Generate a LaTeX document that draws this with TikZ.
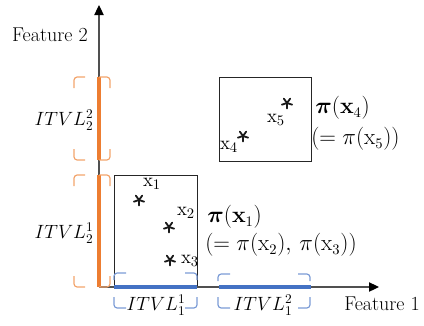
\documentclass[tikz,border=0pt]{standalone}
\usepackage{amsmath}
\usetikzlibrary{arrows.meta}
\definecolor{obar}{HTML}{ED7D31}
\definecolor{obrk}{HTML}{F2A46C}
\definecolor{bbar}{HTML}{4472C4}
\definecolor{bbrk}{HTML}{7B9BD6}
\definecolor{axisgray}{HTML}{505050}
\newcommand{\vbrk}[5]{% color, xl, xr, yt, yb  (vertical interval)
  \draw[#1,brk] (#2,#4+11) -- (#2,#4) -- (#2+11,#4);
  \draw[#1,brk] (#3,#4+11) -- (#3,#4) -- (#3-11,#4);
  \draw[#1,brk] (#2,#5-11) -- (#2,#5) -- (#2+11,#5);
  \draw[#1,brk] (#3,#5-11) -- (#3,#5) -- (#3-11,#5);
}
\newcommand{\hbrk}[5]{% color, xl, xr, yt, yb (horizontal interval)
  \draw[#1,brk] (#2+12,#4) -- (#2,#4) -- (#2,#4+7);
  \draw[#1,brk] (#3-12,#4) -- (#3,#4) -- (#3,#4+7);
  \draw[#1,brk] (#2+12,#5) -- (#2,#5) -- (#2,#5-11);
  \draw[#1,brk] (#3-12,#5) -- (#3,#5) -- (#3,#5-11);
}
\newcommand{\astr}[1]{%
  \foreach \a in {90,162,234,306,18} \draw[starline] (#1) -- ++(\a:5.4);
}
\begin{document}
\begin{tikzpicture}[x=0.75pt,y=-0.75pt,
  txt/.style={inner sep=0pt,font=\fontsize{15}{17}\selectfont},
  mth/.style={inner sep=0pt,font=\fontsize{14.5}{17}\selectfont},
  xlab/.style={inner sep=0pt,font=\fontsize{15.5}{18}\selectfont},
  plab/.style={inner sep=0pt,font=\fontsize{16.3}{19}\selectfont},
  axis/.style={draw=axisgray,line width=0.8pt,-{Triangle[length=7.5pt,width=7pt,fill=black,color=black]}},
  brk/.style={line width=0.9pt,rounded corners=2.4pt},
  obarline/.style={obar,line width=2.6pt},
  bbarline/.style={bbar,line width=2.4pt},
  boxline/.style={draw=black!85,line width=0.7pt,inner sep=0pt},
  starline/.style={black!90,line width=1.35pt,line cap=round}]
\useasboundingbox (0,0) rectangle (424,325);

% boxes
\node[boxline,minimum width=62.25pt,minimum height=84pt] (box1) at (155.5,231) {};
\node[boxline,minimum width=69pt,minimum height=63pt] (box2) at (265,119) {};

% interval bars
\coordinate (o22t) at (99,77);  \coordinate (o22b) at (99,160);
\coordinate (o21t) at (99,175); \coordinate (o21b) at (99,287);
\coordinate (b11l) at (114,287); \coordinate (b11r) at (197,287);
\coordinate (b12l) at (219,287); \coordinate (b12r) at (311,287);

% axes
\coordinate (O) at (99,287);
\coordinate (ytip) at (99,5);
\coordinate (xtip) at (379,287);
\draw[axis] (O) -- (ytip);
\draw[axis] (O) -- (xtip);

\draw[obarline] (o22t) -- (o22b);
\draw[obarline] (o21t) -- (o21b);
\draw[bbarline] (b11l) -- (b11r);
\draw[bbarline] (b12l) -- (b12r);

% brackets
\vbrk{obrk}{74}{110}{77}{160}
\vbrk{obrk}{74}{110}{175}{287}
\hbrk{bbrk}{114}{197}{273}{308}
\hbrk{bbrk}{218}{310}{274}{308}

% axis labels
\node[txt] (f2) at (50,35) {Feature 2};
\node[txt] (f1) at (382,304) {Feature 1};

% interval labels
\node[mth] (l22) at (64,120) {$ITVL_2^2$};
\node[mth] (l21) at (64,233) {$ITVL_2^1$};
\node[mth] (l11) at (156,305) {$ITVL_1^1$};
\node[mth] (l12) at (263,305) {$ITVL_1^2$};

% points
\coordinate (s1) at (139,200);
\coordinate (s2) at (169,227);
\coordinate (s3) at (170,260);
\coordinate (s4) at (243,136);
\coordinate (s5) at (287,103);
\astr{s1}\astr{s2}\astr{s3}\astr{s4}\astr{s5}
\node[xlab] (x1) at (152,184) {$\mathrm{x}_1$};
\node[xlab] (x2) at (186,213) {$\mathrm{x}_2$};
\node[xlab] (x3) at (190,261) {$\mathrm{x}_3$};
\node[xlab] (x4) at (229,147) {$\mathrm{x}_4$};
\node[xlab] (x5) at (276,120) {$\mathrm{x}_5$};

% pi labels
\node[plab,anchor=west] (p4) at (315,108) {$\boldsymbol{\pi}(\mathbf{x}_4)$};
\node[plab,anchor=west] (p45) at (311,139) {$(=\pi(\mathrm{x}_5))$};
\node[plab,anchor=west] (p1) at (207,217) {$\boldsymbol{\pi}(\mathbf{x}_1)$};
\node[plab,anchor=west] (p123) at (205,245) {$(=\pi(\mathrm{x}_2),\,\pi(\mathrm{x}_3))$};
\end{tikzpicture}
\end{document}
